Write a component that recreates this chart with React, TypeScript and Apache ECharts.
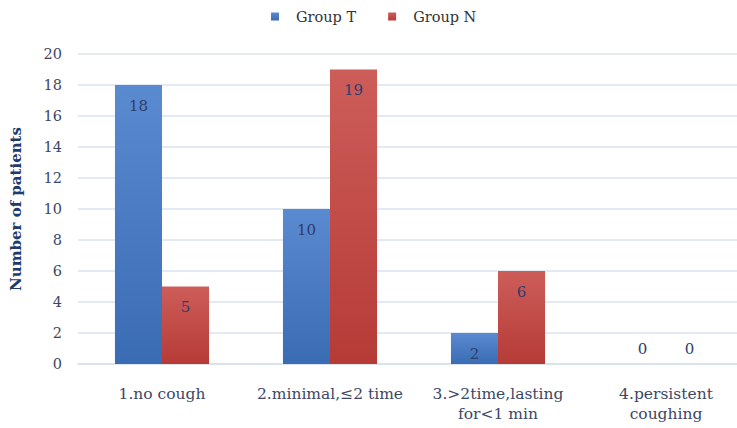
import React, { useEffect, useRef } from "react";
import * as echarts from "echarts";

const categories = [
  "1.no cough",
  "2.minimal,≤2 time",
  "3.>2time,lasting\nfor<1 min",
  "4.persistent\ncoughing",
];
const groupT = [18, 10, 2, 0];
const groupN = [5, 19, 6, 0];
const seriesNames = ["Group T", "Group N"];

const FONT = "DejaVu Serif";

function toData(values: number[]) {
  return values.map((v) =>
    v === 0
      ? { value: v, label: { position: "top", distance: 8 } }
      : { value: v }
  );
}

export default function App() {
  const ref = useRef<HTMLDivElement>(null);
  useEffect(() => {
    if (!ref.current) return;
    const chart = echarts.init(ref.current, undefined, { renderer: "svg" });
    const labelStyle = {
      show: true,
      position: "insideTop",
      distance: 13,
      color: "#2e3d6b",
      fontFamily: FONT,
      fontSize: 15,
    };
    chart.setOption({
      animation: false,
      backgroundColor: "#ffffff",
      legend: {
        data: seriesNames,
        top: 4,
        left: 266,
        itemWidth: 8,
        itemHeight: 8,
        itemGap: 32,
        icon: "rect",
        textStyle: {
          fontFamily: FONT,
          fontSize: 14.5,
          color: "#333333",
          padding: [0, 0, 0, 12],
        },
      },
      grid: { left: 78, top: 54, width: 672, height: 310 },
      xAxis: {
        type: "category",
        data: categories,
        axisTick: { show: false },
        axisLine: { lineStyle: { color: "#d6e0ec", width: 1.5 } },
        axisLabel: {
          margin: 20,
          interval: 0,
          fontFamily: FONT,
          fontSize: 15.5,
          lineHeight: 20,
          color: "#3c4766",
        },
      },
      yAxis: {
        type: "value",
        min: 0,
        max: 20,
        interval: 2,
        name: "Number of patients",
        nameLocation: "middle",
        nameGap: 55,
        nameTextStyle: {
          fontFamily: FONT,
          fontSize: 15,
          fontWeight: "bold",
          color: "#1f3a6e",
        },
        axisLine: { show: false },
        axisTick: { show: false },
        splitLine: { lineStyle: { color: "#d8e3f1", width: 1.5 } },
        axisLabel: {
          margin: 16,
          fontFamily: FONT,
          fontSize: 14.5,
          color: "#3c4766",
        },
      },
      series: [
        {
          name: seriesNames[0],
          type: "bar",
          data: toData(groupT),
          barWidth: "28%",
          barGap: "0%",
          itemStyle: {
            color: new echarts.graphic.LinearGradient(0, 0, 0, 1, [
              { offset: 0, color: "#5a8ad0" },
              { offset: 1, color: "#3a6cb4" },
            ]),
          },
          label: labelStyle,
        },
        {
          name: seriesNames[1],
          type: "bar",
          data: toData(groupN),
          barWidth: "28%",
          barGap: "0%",
          itemStyle: {
            color: new echarts.graphic.LinearGradient(0, 0, 0, 1, [
              { offset: 0, color: "#cd5d59" },
              { offset: 1, color: "#b63b37" },
            ]),
          },
          label: labelStyle,
        },
      ],
    });
    return () => chart.dispose();
  }, []);
  return (
    <div
      style={{
        position: "fixed",
        left: 0,
        top: 0,
        width: 737,
        height: 428,
        overflow: "hidden",
        background: "#fff",
      }}
    >
      <div ref={ref} style={{ width: 770, height: 428 }} />
    </div>
  );
}
